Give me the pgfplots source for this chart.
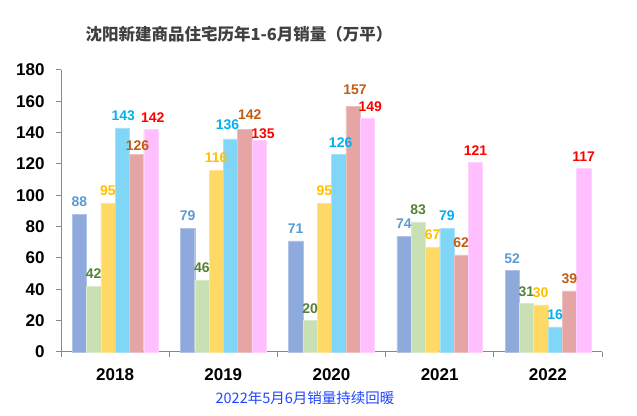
\documentclass[border=0pt]{standalone}
\usepackage{pgfplots}
\pgfplotsset{compat=1.18}
\usepackage{pgfplotstable}
\usepackage{fontspec}
\setmainfont{Liberation Sans}
\newfontfamily\cjk{Noto Sans CJK SC}
\definecolor{c1}{HTML}{8EA9DB}
\definecolor{c2}{HTML}{C9E0B4}
\definecolor{c3}{HTML}{FFD966}
\definecolor{c4}{HTML}{7FD6F6}
\definecolor{c5}{HTML}{E6A5A5}
\definecolor{c6}{HTML}{FFBFFF}
\definecolor{l1}{HTML}{5B9BD5}
\definecolor{l2}{HTML}{548235}
\definecolor{l3}{HTML}{FFC000}
\definecolor{l4}{HTML}{00B0F0}
\definecolor{l5}{HTML}{C55A11}
\definecolor{l6}{HTML}{FF0000}
\definecolor{axgray}{HTML}{888888}
% values, plus label offsets (dx: horizontal, dy: vertical, in pt)
\pgfplotstableread{
x m1 m2 m3 m4 m5 m6 dx4 dx5 dx6 dy4 dy5 dy6
0 88 42 95 143 126 142 1 1 2 0 -3 0
1 79 46 116 136 142 135 -3 5 4 2 3 -5
2 71 20 95 126 157 149 2 2 3 0 4 0
3 74 83 67 79 62 121 0 0 0 0 0 0
4 52 31 30 16 39 117 0 0 0 0 0 0
}\datatable
\begin{document}
\begin{tikzpicture}
\useasboundingbox (0,0) rectangle (637pt,415pt);
\begin{axis}[
  at={(61pt,63pt)}, anchor=south west,
  scale only axis, width=541pt, height=282pt,
  ybar=0pt, bar width=14.3pt,
  xmin=-0.5, xmax=4.5, ymin=0, ymax=180,
  ytick={0,20,...,180},
  xtick={0,1,2,3,4},
  xticklabels={2018,2019,2020,2021,2022},
  minor xtick={-0.5,0.5,1.5,2.5,3.5,4.5},
  axis x line*=bottom, axis y line*=left,
  axis line style={axgray, line width=1pt},
  tick align=outside,
  major tick length=5pt, minor tick length=5pt,
  x tick style={draw=none},
  minor x tick style={draw=axgray, line width=1pt},
  y tick style={axgray, line width=1pt},
  /pgf/number format/assume math mode=true,
  ticklabel style={font=\fontsize{17}{17}\selectfont\bfseries, text=black},
  xticklabel style={yshift=-8pt},
  yticklabel style={xshift=-8pt},
  nodes near coords,
  every node near coord/.append style={font=\fontsize{14}{14}\selectfont\bfseries, inner sep=1pt, yshift=6pt},
  clip=false,
]
\addplot[fill=c1, draw=c1!70!white, every node near coord/.append style={text=l1}] table[x=x,y=m1]{\datatable};
\addplot[fill=c2, draw=c2!70!white, every node near coord/.append style={text=l2}] table[x=x,y=m2]{\datatable};
\addplot[fill=c3, draw=c3!70!white, every node near coord/.append style={text=l3}] table[x=x,y=m3]{\datatable};
\addplot[fill=c4, draw=c4!70!white,
  visualization depends on={\thisrow{dx4}\as\dx},
  visualization depends on={\thisrow{dy4}\as\dy},
  every node near coord/.append style={text=l4, xshift=\dx pt, yshift=\dy pt}] table[x=x,y=m4]{\datatable};
\addplot[fill=c5, draw=c5!70!white,
  visualization depends on={\thisrow{dx5}\as\dx},
  visualization depends on={\thisrow{dy5}\as\dy},
  every node near coord/.append style={text=l5, xshift=\dx pt, yshift=\dy pt}] table[x=x,y=m5]{\datatable};
\addplot[fill=c6, draw=c6!70!white,
  visualization depends on={\thisrow{dx6}\as\dx},
  visualization depends on={\thisrow{dy6}\as\dy},
  every node near coord/.append style={text=l6, xshift=\dx pt, yshift=\dy pt}] table[x=x,y=m6]{\datatable};
\end{axis}
\node[font=\cjk\bfseries\fontsize{16.5}{16.5}\selectfont, text={rgb,255:red,64;green,64;blue,64}] at (239pt,381pt) {沈阳新建商品住宅历年1-6月销量（万平）};
\node[font=\cjk\fontsize{14.5}{14.5}\selectfont, text={rgb,255:red,30;green,70;blue,255}] at (305pt,17pt) {2022年5月6月销量持续回暖};
\end{tikzpicture}
\end{document}
